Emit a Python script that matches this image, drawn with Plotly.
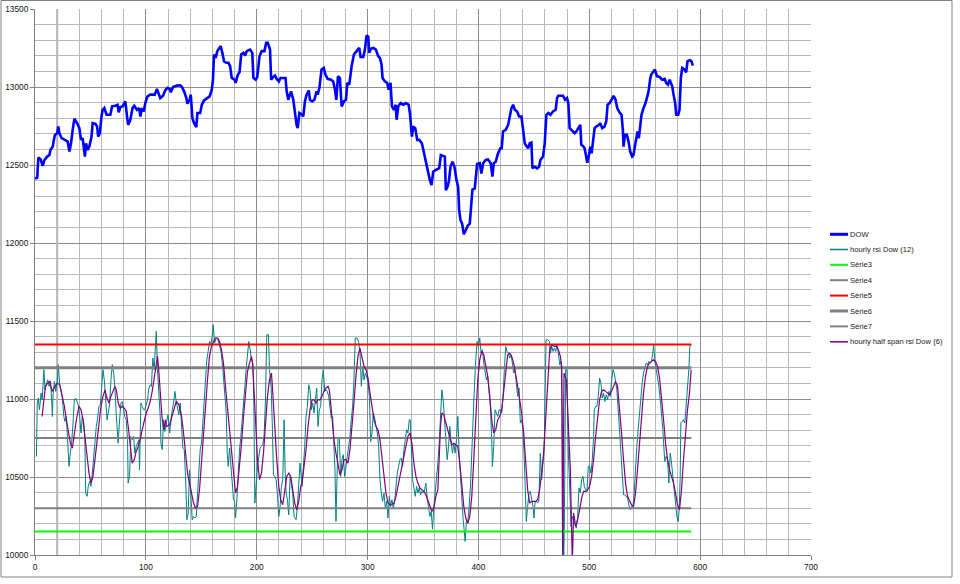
import plotly.graph_objects as go

# ---------------- data ----------------
dow_x = [0, 2, 3, 5, 7, 8.5, 11, 13, 14, 16, 17, 18, 20, 21, 22, 24, 27, 29.5, 31, 32.5, 34, 35.5, 38, 40, 41.5, 43, 45, 46, 47.5, 49,
         51, 52, 54.5, 56, 57, 58.5, 60, 61, 62.5, 64.5, 68, 69.5, 72.5, 74.5, 75.5, 77, 79, 81.5, 83, 84, 86, 88, 89.5, 92, 94, 95, 96.5, 98, 99.5,
         101.5, 104, 108, 110, 111.5, 113, 115.5, 117.5, 119.5, 121.5, 122.5, 124.5, 128, 131, 132.5, 134.5, 136.5, 137.5, 139.5, 140.5, 142,
         143.5, 145.5, 146.5, 149, 150.5, 152.5, 155, 157.5, 159.5, 160.5, 161.5, 163, 164.5, 166, 167.5, 169, 170.5, 172.5, 174.5, 176, 177.5,
         180, 181, 183, 184.5, 186, 188, 189.5, 191, 194, 196, 197, 199, 200.5, 202.5, 204.5, 207, 208.5, 210, 212, 213, 215, 216.5, 218, 220,
         221.5, 226, 227, 228.5, 229.5, 231, 233, 234.5, 236, 237, 238.5, 241, 242, 243.5, 245, 247, 248, 250, 252, 254, 255, 256.5, 258.5,
         260.5, 262, 264, 267, 269, 270.6, 271.8, 273.3, 275, 276.6, 278.7, 280.5, 281.7, 283.5, 285.6, 287.7, 290.1, 292.5, 293.7, 296.1,
         297.6, 299.1, 300.6, 301.5, 303, 305.1, 307.5, 309.6, 311.1, 312.6, 313.5, 315.6, 317.7, 319, 320.7, 322, 323.8, 325.3, 326.2, 327.7,
         329.8, 332.2, 334.6, 337, 338.2, 340, 341.2, 343, 344.8, 346.6, 349, 350.8, 352.6, 354.7, 356.2, 357.7, 359.2, 361.6, 364.6, 366.1,
         368.2, 369.7, 370.6, 372.1, 373.3, 374.8, 376.6, 378.4, 380.2, 381.7, 382.6, 383.8, 385.3, 386.8, 388.6, 390.4, 392.2, 393.4, 394.6,
         396.7, 397.6, 398.8, 401.2, 402.7, 404.2, 406.6, 408.7, 411.1, 412.6, 413.8, 415.6, 417.7, 419.8, 421, 422.2, 424.6, 426.8, 428.3,
         429.8, 431.3, 432.8, 434.9, 436.7, 438.8, 440.3, 441.8, 443.3, 444.8, 446.3, 447.8, 448.7, 450.8, 452.9, 454.7, 455.9, 458.3, 459.8,
         461.3, 463.1, 464.9, 467.3, 469.7, 470.9, 472.1, 476.3, 478.1, 479.9, 481.1, 482.3, 484.7, 486.8, 488.3, 490.1, 491.9, 492.8, 494.3,
         495.8, 497.3, 498.2, 499.7, 500.9, 502.1, 503.3, 504.8, 506.3, 508.7, 509.9, 511.7, 513.8, 515.3, 516.5, 518.3, 520.1, 521.9, 523.7,
         525.2, 527.3, 529.1, 530.3, 530.9, 532.1, 533.9, 535.4, 536.9, 538.7, 539.9, 541.1, 542.3, 543.5, 544.7, 545.9, 547.1, 548.9, 550.7,
         552.8, 553.7, 554.9, 555.8, 558, 559.2, 561, 563.4, 565.8, 568, 569.4, 571, 572.5, 574.8, 576, 577.5, 578.4, 580.2, 581.4, 582.6,
         583.8, 585.9, 587.4, 588.6, 591, 592.2, 593.4]
dow_y = [12414, 12418, 12548, 12536, 12494, 12532, 12554, 12564, 12597, 12618, 12661, 12693, 12704, 12747, 12704, 12672, 12661, 12650,
         12586, 12639, 12725, 12796, 12768, 12736, 12661, 12672, 12554, 12639, 12597, 12618, 12682, 12768, 12764, 12747, 12682, 12704,
         12811, 12854, 12865, 12822, 12822, 12876, 12880, 12886, 12837, 12871, 12876, 12908, 12811, 12757, 12790, 12865, 12880, 12854,
         12865, 12811, 12865, 12843, 12897, 12940, 12951, 12951, 12987, 12951, 12929, 12944, 12979, 12994, 12987, 12966, 13000, 13009,
         13011, 13000, 12972, 12929, 12893, 12918, 12951, 12800, 12768, 12742, 12833, 12833, 12886, 12914, 12929, 12940, 12983, 13047,
         13208, 13187, 13230, 13251, 13262, 13219, 13165, 13155, 13155, 13133, 13058, 13047, 13026, 13079, 13094, 13208, 13219, 13202,
         13230, 13240, 13219, 13058, 13047, 13064, 13197, 13230, 13230, 13283, 13283, 13240, 13047, 13064, 13073, 13052, 13036, 13058,
         13058, 12972, 12918, 12940, 12972, 12918, 12833, 12757, 12736, 12833, 12822, 12811, 12908, 12951, 12979, 12918, 12908, 12918,
         12972, 12951, 12994, 13112, 13122, 13079, 13052, 13047, 13036, 12983, 12918, 13069, 13058, 12876, 12908, 12918, 13026, 13015,
         13133, 13208, 13230, 13251, 13193, 13193, 13240, 13330, 13322, 13219, 13245, 13251, 13240, 13197, 13187, 13144, 13058, 13036,
         13026, 12983, 13026, 12876, 12854, 12886, 12790, 12876, 12897, 12886, 12897, 12886, 12833, 12682, 12747, 12736, 12661, 12661,
         12639, 12575, 12511, 12446, 12403, 12371, 12457, 12468, 12479, 12564, 12558, 12554, 12339, 12361, 12393, 12489, 12521, 12489,
         12403, 12361, 12210, 12146, 12124, 12056, 12082, 12112, 12124, 12232, 12343, 12350, 12425, 12506, 12511, 12446, 12511, 12532,
         12536, 12511, 12425, 12511, 12521, 12575, 12607, 12607, 12715, 12725, 12757, 12811, 12865, 12886, 12854, 12843, 12811, 12811,
         12715, 12639, 12622, 12607, 12639, 12643, 12479, 12489, 12479, 12489, 12532, 12554, 12639, 12822, 12833, 12822, 12843, 12854,
         12929, 12944, 12944, 12918, 12929, 12897, 12736, 12715, 12704, 12715, 12736, 12757, 12629, 12622, 12607, 12543, 12515, 12564,
         12618, 12575, 12639, 12736, 12747, 12757, 12768, 12736, 12747, 12779, 12886, 12897, 12918, 12944, 12918, 12865, 12837, 12822,
         12725, 12618, 12693, 12693, 12650, 12586, 12554, 12564, 12618, 12661, 12715, 12672, 12736, 12822, 12865, 12897, 12951, 12983,
         13052, 13079, 13101, 13112, 13069, 13064, 13047, 13052, 13026, 13015, 13047, 13004, 12951, 12897, 12822, 12822, 12854, 13058,
         13122, 13112, 13094, 13165, 13172, 13165, 13137]

rsi_x = [1.3, 2, 3, 4, 5.5, 6.5, 8, 9, 10, 11.5, 12.7, 14, 15, 15.7, 16.3, 17.5, 18.7, 20, 21, 22.3, 23.5, 24.7, 26, 27, 28.3, 29.5, 30.7,
         32, 33, 34.3, 35.5, 36.7, 38, 39, 40.3, 41.5, 42.7, 44, 45, 45.7, 47, 48, 49.3, 50.5, 51.7, 53, 54, 55.3, 56.5, 57.7, 59, 60, 61.3,
         62.5, 63.7, 65, 66, 67.3, 68.5, 69.7, 71, 72, 73.3, 74.5, 75, 76.3, 77.5, 78.7, 80, 81, 82.3, 83.5, 84, 85.3, 86.5, 87.7, 89, 90,
         91.3, 92.5, 93.7, 94.3, 95.5, 96.7, 98, 99, 100.3, 101.5, 102.7, 104, 105, 106.3, 107.5, 108.7, 109.4, 110.5, 111.8, 113, 113.6,
         114.8, 116, 117.2,
         118.4, 120, 121.4, 122.6, 123.8, 125, 126.2, 127.4, 128.6, 129.8, 131, 132.2, 133.4, 134.6, 135.8, 137, 138.2, 139.4, 140.6,
         141.8, 143, 144.2, 145.4, 146.6, 147.8, 149, 150.2, 151.4, 152.6, 153.8, 155, 156.2, 157.4, 158.6, 159.8, 160.7, 162, 163.4,
         164.9, 166.4, 168, 169.5, 171, 172.5, 173.4, 174.3, 175.5, 176.7, 177.9, 179.1, 180, 180.9, 182.1, 183.3, 184.5, 185.7, 186.9,
         188.1, 189.3, 190.5, 191.7, 192.9, 194.1, 195.3, 196.5, 197.4, 198.3, 199.5, 200.7, 201.9, 203.1, 204.3, 205.5, 206.7, 207.9,
         209.1, 210.6, 211.5, 213, 214.2, 215.1, 216.3, 217.5, 218.7, 219.9, 221.1, 222.3, 223.5, 224.7, 225.6, 226.5, 227.7, 228.9,
         230.1, 231.3, 232.5, 233.7, 235.5, 236.7, 237.9, 239.1,
         240.9, 242.1, 243.3, 244.5, 245.7, 246.9, 248.1, 249.3, 250.5, 251.7, 252.9, 254.1, 255.3, 256.5, 257.7, 258.9, 260.1, 261.3,
         262.5, 263.7, 264.9, 266.1, 267.3, 268.5, 269.7, 270.6, 271.5, 272.4, 273.3, 274.5, 275.7, 276.9, 278.1, 279.3, 280.5, 281.7,
         282.9, 284.1, 285.3, 286.5, 287.7, 288.9, 290.4, 291.9, 293.2, 294.4, 295.6, 296.8, 298, 299.2, 300.4, 301.6, 302.8, 304, 305.2,
         306.4, 307.6, 308.8, 310, 311.2, 312.4, 313.6, 314.8, 316, 317.2, 318.4, 319.6, 320.8, 322, 323.2, 324.4, 325.6, 326.8, 328,
         329.2, 330.4, 331.6, 332.8, 334, 335.2, 336.4, 337.6, 338.5, 339.4, 340.6, 341.8, 343, 344.2, 345.4, 346.6, 347.8, 349, 350.2,
         351.4, 352.6, 353.8, 355, 356.2, 357.4, 358.6, 359.8, 361, 362.2,
         363.4, 364.6, 365.8, 367, 368.2, 369.4, 370.6, 371.8, 373, 374.2, 375.4, 376.6, 377.8, 379, 380.2, 381.4, 382.6, 383.8, 385,
         386.2, 387.4, 388, 389.2, 390.4, 391.6, 392.8, 394, 395.2, 396.4, 397.6, 398.8, 400, 401.2, 402.4, 403.6, 404.8, 406, 407.2,
         408.4, 409.6, 410.8, 412, 412.6, 413.8, 415, 416.2, 417.4, 418.6, 419.8, 421, 422.2, 423.4, 424.6, 425.8, 427, 428.2, 429.4,
         430.6, 431.8, 433, 434.2, 435.4, 436.6, 437.8, 439, 440.2, 441.4, 442.6, 443.2, 444.4, 445.6, 446.8, 448, 449.2, 450.1, 451,
         452.2, 453.4, 454.6, 455.8, 457, 458.2, 459.4, 460, 461, 462.5, 464, 465, 466.1, 467.3, 468.5, 469.7, 470.9, 472.1, 473.3, 474.5,
         475.1, 476, 476.9, 477.5, 478.7, 479.9, 481.1, 482.3, 483.5, 484.7,
         485.9, 487.1, 488.3, 489.5, 490.7, 491.9, 493.1, 494.3, 495.5, 496.7, 497.9, 499.1, 500.3, 501.5, 502.7, 503.9, 504.5, 505.7,
         506.9, 508.1, 509.3, 510.5, 511.7, 512.9, 514.1, 515.3, 516.5, 517.7, 518.9, 520.1, 521.3, 522.5, 523.7, 524.9, 526.1, 527.3,
         528.5, 529.7, 530.9, 532.1, 533.3, 534.5, 535.7, 536.9, 538.1, 539.3, 540.5, 541.7, 542.9, 544.1, 545.3, 546.5, 547.7, 548.9,
         550.1, 551.3, 552.5, 553.7, 554.9, 556.1, 557.3, 558, 559.2, 560.4, 561.6, 562.8, 564, 565.2, 566.4, 567.6, 568.2, 569.4, 570.6,
         571.8, 573, 574.2, 575.4, 576.6, 577.8, 579, 580.2, 581.1, 582, 582.6, 583.8, 585, 586.2, 587.4, 588.6, 589.8, 590.7, 591.9]
rsi_y = [10632, 10974, 11006, 10931, 11038, 10995, 11188, 11059, 11091, 11123, 11081, 11113, 10995, 10888, 11027, 11113, 11049, 11102,
         11220, 11091, 11059, 11006, 10888, 10856, 10888, 10717, 10568, 10664, 10717, 10846, 10995, 11006, 10984, 10963, 10888, 10782,
         10888, 10846, 10739, 10397, 10376, 10440, 10472, 10440, 10525, 10632, 10739, 10824, 10878, 10953, 10963, 11059, 11188, 11123,
         11017, 10867, 10910, 10963, 11123, 11220, 11166, 11081, 10899, 10782, 10717, 10867, 10974, 10984, 10910, 10888, 10867, 10739,
         10461, 10504, 10760, 10739, 10760, 10653, 10696, 10717, 10739, 10546, 10974, 10953, 10931, 10931, 10963, 10995, 11070, 11091,
         11081, 11262, 11188, 11326, 11433, 11188, 11038, 10878, 10717, 10675, 10867, 10792,
         10846, 10899, 10782, 10878, 10931, 10974, 11049, 10984, 10931, 10899, 10974, 10846, 10685, 10675, 10504, 10226, 10269, 10546,
         10418, 10226, 10247, 10237, 10247, 10397, 10514, 10675, 10717, 10846, 10974, 11081, 11252, 11305, 11369, 11348, 11401, 11476,
         11359, 11391, 11380, 11348, 11294, 11188, 11059, 10910, 10653, 10568, 10685, 10589, 10504, 10354, 10344, 10237, 10354, 10525,
         10675, 10760, 10888, 10974, 11081, 11198, 11273, 11369, 11316, 11252, 11230, 10995, 10333, 10483, 10568, 10632, 10685, 10696,
         10707, 10771, 10995, 11412, 11412, 11188, 11081, 10803, 10514, 10504, 10483, 10386, 10247, 10311, 10440, 10483, 10867, 10546,
         10397, 10354, 10258, 10504, 10461, 10397, 10247, 10226, 10311, 10461, 10589,
         10440, 10546, 10696, 10888, 10953, 11091, 11059, 10931, 10974, 10910, 10974, 11070, 10824, 10931, 10953, 11123, 11188, 11049,
         11059, 11049, 11017, 10931, 10878, 10888, 10739, 10546, 10215, 10568, 10750, 10750, 10504, 10611, 10643, 10504, 10589, 10632,
         10696, 10760, 10867, 10953, 11123, 11391, 11391, 11369, 11294, 11081, 11209, 11123, 11166, 11134, 11113, 11017, 10728, 10782,
         10910, 10878, 10824, 10782, 10696, 10483, 10397, 10344, 10397, 10301, 10344, 10237, 10376, 10311, 10354, 10301, 10344, 10440,
         10525, 10568, 10611, 10621, 10568, 10675, 10739, 10803, 10782, 10867, 10867, 10653, 10483, 10429, 10376, 10440, 10397, 10429,
         10386, 10408, 10397, 10418, 10461, 10365, 10311, 10247, 10279, 10166, 10311, 10397, 10483,
         10589, 10717, 10888, 11059, 10995, 10846, 10760, 10611, 10696, 10824, 10717, 10653, 10717, 10653, 10739, 10888, 10653, 10504,
         10354, 10226, 10141, 10087, 10226, 10204, 10311, 10440, 10653, 10931, 11081, 11252, 11369, 11337, 11391, 11294, 11316, 11230,
         11166, 11123, 11145, 11059, 10953, 10739, 10568, 10696, 10931, 10910, 10888, 10931, 10931, 10910, 11017, 11188, 11337, 11305,
         11294, 11262, 11284, 11230, 11166, 11188, 11102, 11017, 11070, 10846, 10867, 10803, 10611, 10376, 10215, 10311, 10397, 10408,
         10354, 10311, 10237, 10333, 10344, 10333, 10354, 10653, 10483, 10589, 10696, 10974, 11380, 11380, 11369, 11294, 11337, 11305,
         11326, 11305, 11348, 11294, 11220, 11241, 11166, 10653, 9950, 10204, 11188, 11188, 10653, 10440, 10183, 10247,
         10226, 10194, 10172, 10247, 10429, 10397, 10483, 10504, 10440, 10418, 10408, 10568, 10568, 10525, 10611, 10760, 10931, 10953,
         10953, 11017, 11134, 11102, 11006, 11038, 10984, 11027, 10995, 11049, 11017, 11113, 11188, 11166, 11102, 11059, 10931, 10803,
         10653, 10546, 10386, 10386, 10376, 10365, 10322, 10290, 10311, 10301, 10397, 10568, 10696, 10803, 10910, 11017, 11102, 11166,
         11198, 11230, 11220, 11241, 11230, 11241, 11294, 11348, 11241, 11188, 11155, 11081, 10995, 10910, 10803, 10653, 10600, 10632,
         10611, 10461, 10653, 10589, 10504, 10418, 10354, 10247, 10215, 10290, 10504, 10846, 10856, 10867, 10846, 10953, 11038, 11188,
         11337, 11348]

half_x = [6.4, 8, 9.4, 11.5, 13.3, 15.4, 17.5, 19.9, 22.3, 24.4, 26.5, 28.3, 30.1, 31.9, 33.7, 35.5, 37.3, 39.7, 41.5, 43.3, 45.1, 46.9,
          48.7, 50.5, 52.3, 54.1, 55.9, 57.7, 59.5, 61.3, 63.1, 64.9, 66.7, 68.5, 70.3, 72.1, 73.3, 75.1, 76.9, 78.7, 80.5, 82.3, 84.1,
          85.9, 87.7, 89.5, 91.3, 93.1, 94.9, 96.7, 98.5, 100.3, 102.1, 103.9, 105.7, 107.5, 109.4, 110.5, 111.8, 113, 114.5, 116, 117.8,
          118.4, 121.4, 124.4, 127.4, 129.8, 132.2, 134, 135.8, 137.6, 139.4, 141.2, 143, 144.8, 146.6, 148.4, 150.2, 152, 153.8, 155.6,
          157.4, 159.2, 161, 162.8, 164.9, 166.4, 168.2, 170, 171.8, 173.7, 175.5, 177.3, 179.1, 180.9, 182.7, 184.5, 186.3, 188.1, 189.9,
          191.7, 193.5, 195.3, 196.5, 197.7, 198.9, 200.7, 202.5, 204.3, 206.1, 207.9, 209.7, 211.5, 213.3, 214.5, 216.3, 218.1, 219.9,
          221.7, 223.5, 225.3, 227.1, 228.9, 230.7, 232.5, 234.3, 236.1, 237.9, 239.7,
          240.9, 242.7, 244.5, 246.3, 248.1, 249.9, 251.7, 253.5, 255.3, 257.1, 258.9, 260.7, 262.5, 264.3, 265.5, 266.7, 267.9, 269.7,
          271.5, 273.3, 275.1, 276.9, 278.7, 280.5, 282.3, 284.1, 285.9, 287.7, 289.5, 291.3, 293.1, 294.9, 296.8, 298.6, 300.4, 302.2,
          304, 305.8, 307.6, 309.4, 311.2, 313, 314.8, 316.6, 318.4, 320.2, 322, 323.8, 325.6, 327.4, 329.2, 331, 332.8, 334.6, 336.4,
          338.2, 340, 341.8, 343.6, 345.4, 347.2, 349, 350.8, 352.6, 354.4, 356.2, 358, 359.8, 361.6,
          363.4, 364.6, 365.8, 367, 368.8, 370.6, 372.4, 374.2, 376, 377.8, 379.6, 381.4, 383.2, 385, 386.8, 388.6, 390.4, 392.2, 394,
          395.8, 397.6, 399.4, 401.2, 403, 404.8, 406.6, 408.4, 410.2, 412, 413.8, 415.6, 417.4, 419.2, 421, 422.8, 424.6, 426.4, 428.2,
          430, 431.8, 433.6, 435.4, 437.2, 439, 440.8, 442.6, 444.4, 446.2, 448, 449.8, 451.6, 453.4, 455.2, 457, 458.8, 460.6, 462.5,
          464.3, 466.1, 468.5, 470.3, 472.1, 473.9, 475.1, 476, 477.2, 479.3, 481.1, 482.9, 484.7,
          485.9, 487.7, 489.5, 491.3, 493.1, 494.9, 496.7, 498.5, 500.3, 502.1, 503.9, 505.7, 507.5, 509.3, 511.1, 512.9, 514.7, 516.5,
          518.3, 520.1, 521.9, 523.7, 525.5, 527.3, 529.1, 530.9, 532.7, 534.5, 536.3, 538.1, 539.9, 541.7, 543.5, 545.3, 547.1, 548.9,
          550.7, 552.5, 554.3, 556.1, 557.9, 559.7, 561.6, 563.4, 565.2, 567, 568.8, 570.6, 572.4, 574.2, 576, 577.8, 579.6, 581.4, 583.2,
          585, 586.8, 588.6, 590.4, 591.9]
half_y = [10888, 11017, 11081, 11102, 11113, 11049, 11070, 11102, 11091, 11027, 10953, 10867, 10803, 10717, 10685, 10782, 10867, 10953,
          10931, 10867, 10760, 10632, 10525, 10461, 10504, 10611, 10717, 10846, 10953, 11017, 11059, 11006, 10974, 11017, 11049, 11081,
          11059, 10974, 10942, 10953, 10942, 10921, 10824, 10696, 10589, 10611, 10664, 10696, 10739, 10803, 10867, 10910, 10942, 10984,
          11049, 11145, 11241, 11273, 11166, 11017, 10888, 10803, 10867,
          10824, 10835, 10910, 10984, 10963, 10888, 10782, 10653, 10525, 10461, 10386, 10333, 10301, 10311, 10418, 10611, 10782, 10953,
          11123, 11273, 11337, 11369, 11391, 11391, 11369, 11316, 11230, 11081, 10931, 10782, 10632, 10504, 10397, 10440, 10568, 10717,
          10888, 11059, 11177, 11230, 11273, 11209, 11017, 10803, 10611, 10483, 10525, 10653, 10846, 11017, 11123, 11166, 11038, 10803,
          10611, 10440, 10354, 10322, 10418, 10504, 10525, 10504, 10418, 10333, 10290, 10344, 10440,
          10461, 10568, 10675, 10824, 10931, 10995, 10995, 10974, 10995, 10995, 11017, 11049, 11070, 11081, 11059, 10974, 10867, 10739,
          10653, 10568, 10514, 10546, 10611, 10611, 10589, 10675, 10803, 10974, 11145, 11273, 11326, 11273, 11209, 11188, 11134, 11038,
          10953, 10867, 10824, 10803, 10739, 10632, 10525, 10397, 10333, 10322, 10322, 10333, 10376, 10440, 10504, 10589, 10632, 10696,
          10760, 10782, 10717, 10589, 10504, 10461, 10429, 10418, 10408, 10386, 10354, 10311, 10279, 10301, 10376,
          10418, 10653, 10824, 10910, 10899, 10846, 10803, 10760, 10707, 10717, 10707, 10696, 10589, 10440, 10311, 10237, 10204, 10247,
          10376, 10611, 10867, 11123, 11252, 11305, 11284, 11220, 11145, 11017, 10867, 10782, 10803, 10867, 10888, 10931, 11059, 11188,
          11284, 11294, 11273, 11230, 11166, 11081, 10995, 10910, 10782, 10611, 10418, 10333, 10344, 10344, 10344, 10354, 10418, 10525,
          10653, 10867, 11145, 11316, 11348, 11337, 11337, 11316, 11273, 11209, 9950, 11166, 11123, 10867, 10546, 9950,
          10269, 10183, 10226, 10290, 10365, 10408, 10408, 10418, 10440, 10504, 10611, 10760, 10888, 10995, 11049, 11059, 11049, 11038,
          11027, 11049, 11081, 11113, 11081, 10953, 10782, 10611, 10461, 10376, 10344, 10322, 10311, 10397, 10546, 10717, 10888, 11038,
          11145, 11209, 11230, 11241, 11252, 11241, 11209, 11134, 11017, 10867, 10717, 10611, 10546, 10504, 10461, 10397, 10322, 10290,
          10418, 10611, 10782, 10931, 11038, 11188]

level_x = [0, 592]
serie3 = [10150, 10150]
serie4 = [10300, 10300]
serie5 = [11350, 11350]
serie6 = [11200, 11200]
serie7 = [10750, 10750]

series_names = ["DOW", "hourly rsi Dow (12)", "Série3", "Série4", "Série5", "Série6", "Série7",
                "hourly half span rsi Dow (6)"]
series_colors = ["#0000ff", "#008080", "#00ff00", "#808080", "#ff0000", "#808080", "#808080", "#800080"]
series_widths = [2.6, 1, 2, 2, 2, 3, 2, 1.2]
legend_widths = [3, 1.5, 2, 2, 2, 3, 2, 1.5]

x_ticks = [0, 100, 200, 300, 400, 500, 600, 700]
y_ticks = [10000, 10500, 11000, 11500, 12000, 12500, 13000, 13500]

# ---------------- figure ----------------
fig = go.Figure()
xs = [dow_x, rsi_x, level_x, level_x, level_x, level_x, level_x, half_x]
ys = [dow_y, rsi_y, serie3, serie4, serie5, serie6, serie7, half_y]
for name, col, w, x, y in zip(series_names, series_colors, series_widths, xs, ys):
    fig.add_trace(go.Scatter(x=x, y=y, mode="lines", name=name, showlegend=False,
                             line=dict(color=col, width=w), hoverinfo="skip"))

W, H = 960, 584
L, R, T, B = 35, 811, 9, 555


def px2paper_x(px):
    return (px - L) / (R - L)


def px2paper_y(py):
    return (B - py) / (B - T)


shapes = []
annotations = []
# outer chart border
shapes.append(dict(type="rect", xref="paper", yref="paper",
                   x0=px2paper_x(1), x1=px2paper_x(952), y0=px2paper_y(577), y1=px2paper_y(0.5),
                   line=dict(color="#808080", width=1), fillcolor="rgba(0,0,0,0)", layer="below"))
# slightly heavier grid line seen at x=20
shapes.append(dict(type="line", xref="x", yref="y", x0=20, x1=20, y0=10000, y1=13500,
                   line=dict(color="#b4b4b4", width=2), layer="between"))

# manual legend
leg_y = [234.3, 249.5, 264.8, 280.2, 295.6, 311.0, 326.4, 341.8]
for name, col, w, yy in zip(series_names, series_colors, legend_widths, leg_y):
    shapes.append(dict(type="line", xref="paper", yref="paper",
                       x0=px2paper_x(830), x1=px2paper_x(848), y0=px2paper_y(yy), y1=px2paper_y(yy),
                       line=dict(color=col, width=w)))
    annotations.append(dict(xref="paper", yref="paper", x=px2paper_x(848), y=px2paper_y(yy),
                            text=name, showarrow=False, xanchor="left", yanchor="middle",
                            font=dict(family="Liberation Sans, Arial, sans-serif", size=7.6, color="#1a1a1a")))

axis_font = dict(family="Liberation Sans, Arial, sans-serif", size=8.3, color="#111111")

fig.update_layout(
    width=W, height=H,
    margin=dict(l=L, r=W - R, t=T, b=H - B, pad=0, autoexpand=False),
    paper_bgcolor="white", plot_bgcolor="white",
    showlegend=False,
    shapes=shapes, annotations=annotations,
    xaxis=dict(range=[0, 700], tickvals=x_ticks, ticktext=[str(v) for v in x_ticks],
               showgrid=True, gridcolor="#8c8c8c", gridwidth=1,
               minor=dict(dtick=20, showgrid=True, gridcolor="#b9b9b9", gridwidth=1, ticks=""),
               showline=True, linecolor="#808080", linewidth=1,
               ticks="outside", ticklen=4, tickcolor="#808080", automargin=False,
               tickfont=axis_font, zeroline=False, fixedrange=True),
    yaxis=dict(range=[10000, 13500], tickvals=y_ticks, ticktext=[str(v) for v in y_ticks],
               showgrid=True, gridcolor="#8c8c8c", gridwidth=1,
               minor=dict(dtick=100, showgrid=True, gridcolor="#b9b9b9", gridwidth=1, ticks=""),
               showline=True, linecolor="#808080", linewidth=1,
               ticks="outside", ticklen=4, tickcolor="#808080", automargin=False,
               tickfont=axis_font, zeroline=False, fixedrange=True),
)

fig.write_html("out.html", config={"displayModeBar": False, "staticPlot": True},
               post_script="document.body.style.margin='0px';")
